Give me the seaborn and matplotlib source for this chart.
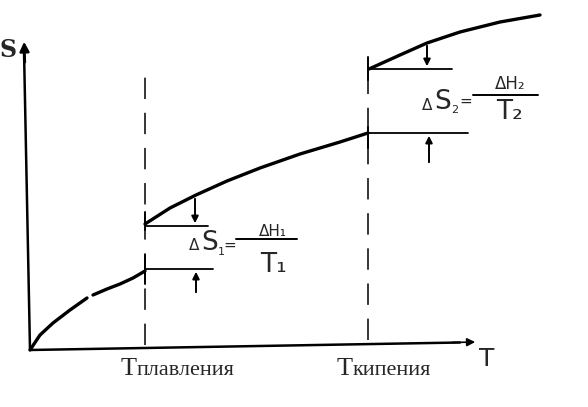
import numpy as np
import matplotlib
matplotlib.use("Agg")
import matplotlib.pyplot as plt
import seaborn as sns

# entropy S(T) for a pure substance, arbitrary units
# solid branch (hand-drawn with a small break in the stroke)
T_solid_a = [0, 10, 23, 40, 57]
S_solid_a = [0, 15, 27, 40, 52]
T_solid_b = [63, 77, 90, 103, 115]
S_solid_b = [55, 61, 66, 72, 79]
# liquid branch
T_liquid = [115, 140, 166, 197, 230, 270, 310, 338]
S_liquid = [126, 142, 155, 169, 182, 196, 208, 217]
# gas branch
T_gas = [339, 370, 397, 430, 470, 510]
S_gas = [281, 295, 307, 318, 328, 335]

T_melt = 115
T_boil = 338
S_melt_low, S_melt_high = 81, 124
S_boil_low, S_boil_high = 217, 281

melt_label = ["T", "плавления"]
boil_label = ["T", "кипения"]

sns.set_style("white")
plt.rcParams["font.family"] = ["DejaVu Sans"]

fig = plt.figure(figsize=(5.88, 4.07), dpi=100)
ax = fig.add_axes([0, 0, 1, 1])
ax.set_xlim(-30, 558)
ax.set_ylim(-57, 350)
ax.axis("off")

# curves
for tt, ss in [(T_solid_a, S_solid_a), (T_solid_b, S_solid_b),
               (T_liquid, S_liquid), (T_gas, S_gas)]:
    sns.lineplot(x=tt, y=ss, ax=ax, color="black", lw=2.4, sort=False,
                 solid_capstyle="round")

# axes drawn by hand, with arrows
ax.plot([0, -6], [0, 300], color="black", lw=1.8)
ax.annotate("", xy=(-6, 311), xytext=(-5, 285),
            arrowprops=dict(arrowstyle="-|>", color="black", lw=1.8,
                            mutation_scale=14))
ax.plot([0, 430], [0, 7.5], color="black", lw=1.8)
ax.annotate("", xy=(448, 8), xytext=(420, 7.5),
            arrowprops=dict(arrowstyle="-|>", color="black", lw=1.2,
                            mutation_scale=12))
ax.text(-22, 300, "S", fontsize=17, fontweight="bold", ha="center",
        va="center", family="DejaVu Serif")
ax.text(457, -9, "T", fontsize=18, ha="center", va="center")

# phase transition temperatures (dashed)
ax.plot([T_melt, T_melt], [5, 282], color="black", lw=1.1,
        linestyle=(0, (14, 9)))
ax.plot([T_boil, T_boil], [10, 270], color="black", lw=1.1,
        linestyle=(0, (14, 9)))
for tx, s0, s1 in [(T_melt, 120, 138), (T_melt, 66, 95),
                   (T_boil, 270, 293), (T_boil, 202, 223)]:
    ax.plot([tx, tx], [s0, s1], color="black", lw=1.4)

# level lines
ax.plot([T_melt, 183], [S_melt_low, S_melt_low], color="black", lw=1.3)
ax.plot([T_melt, 178], [S_melt_high, S_melt_high], color="black", lw=1.3)
ax.plot([T_boil, 438], [S_boil_low, S_boil_low], color="black", lw=1.3)
ax.plot([T_boil, 422], [S_boil_high, S_boil_high], color="black", lw=1.3)

arrow = dict(arrowstyle="-|>", color="black", lw=1.4, mutation_scale=10)
ax.annotate("", xy=(165, S_melt_high), xytext=(165, 154), arrowprops=arrow)
ax.annotate("", xy=(166, S_melt_low), xytext=(166, 55), arrowprops=arrow)
ax.annotate("", xy=(397, S_boil_high), xytext=(397, 307), arrowprops=arrow)
ax.annotate("", xy=(399, S_boil_low), xytext=(399, 185), arrowprops=arrow)

# formulas  dS = dH / T
ax.text(159, 104, "Δ", fontsize=11, ha="left", va="center")
ax.text(171, 107, "S", fontsize=19, ha="left", va="center")
ax.text(188, 98, "1", fontsize=8, ha="left", va="center")
ax.text(200, 105, "=", fontsize=11, ha="center", va="center")
ax.plot([206, 267], [111, 111], color="black", lw=1.4)
ax.text(243, 118, "ΔH₁", fontsize=11, ha="center", va="center")
ax.text(244, 85, "T₁", fontsize=19, ha="center", va="center")

ax.text(392, 244, "Δ", fontsize=11, ha="left", va="center")
ax.text(404, 248, "S", fontsize=19, ha="left", va="center")
ax.text(421, 240, "2", fontsize=8, ha="left", va="center")
ax.text(436, 249, "=", fontsize=11, ha="center", va="center")
ax.plot([443, 508], [255, 255], color="black", lw=1.4)
ax.text(480, 266, "ΔH₂", fontsize=12, ha="center", va="center")
ax.text(479, 238, "T₂", fontsize=19, ha="center", va="center")

# temperature labels under the axis
for t0, lab in [(T_melt - 8, melt_label), (T_boil - 15, boil_label)]:
    ax.text(t0, -25, lab[0], fontsize=19, ha="right", va="baseline",
            family="Liberation Serif")
    ax.text(t0, -25, lab[1], fontsize=16, ha="left", va="baseline",
            family="Liberation Serif")

fig.savefig("out.png", dpi=100)
